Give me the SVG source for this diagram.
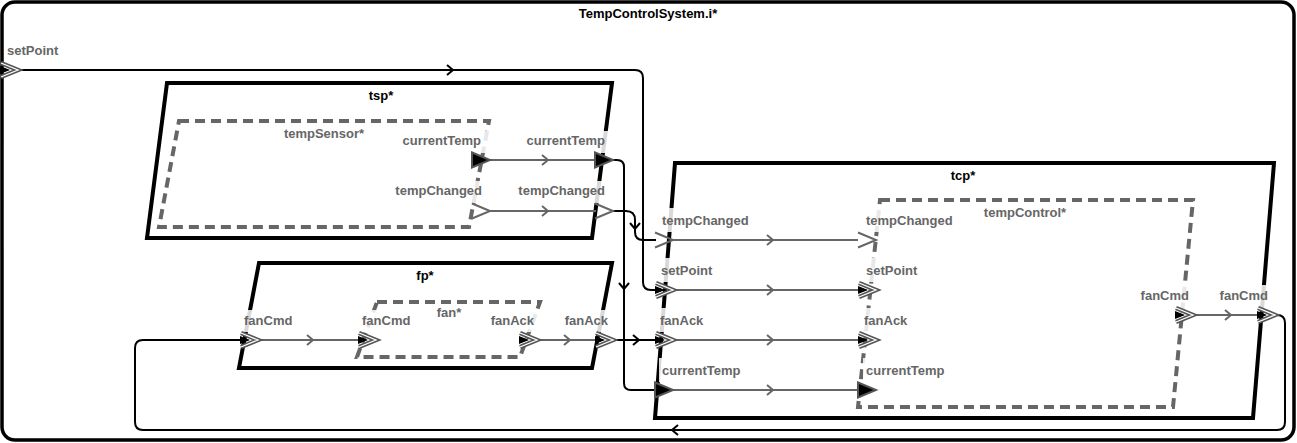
<svg xmlns="http://www.w3.org/2000/svg" width="1297" height="443" viewBox="0 0 1297 443">
<style>
text{font-family:"Liberation Sans",Arial,sans-serif;font-weight:bold;font-size:13px}
.nl{fill:#000;text-anchor:middle}
.sl{fill:#666;text-anchor:middle}
.pl{fill:#666}
.pe{fill:#666;text-anchor:end}
.lb{fill:#fff;fill-opacity:0.85}
.node{fill:#fff;stroke:#000;stroke-width:4;stroke-linejoin:miter}
.sub{fill:none;stroke:#666;stroke-width:4;stroke-dasharray:10 6}
.ext{fill:none;stroke:#000;stroke-width:2}
.int{fill:none;stroke:#666;stroke-width:2}
.mk{fill:none;stroke-width:2}
</style>
<defs>
<g id="pData"><polygon points="0,-7.5 18,0 0,7.5" fill="#000" stroke="#555" stroke-width="2"/></g>
<g id="pEvent"><polyline points="0,-7.5 18,0 0,7.5" fill="none" stroke="#666" stroke-width="2"/></g>
<g id="pEvData"><polygon points="0,-4 10,0 0,4" fill="#000"/><polyline points="1,-7 18,0 1,7" fill="none" stroke="#555" stroke-width="4.5" stroke-linejoin="miter"/><polyline points="1,-7 18,0 1,7" fill="none" stroke="#fff" stroke-width="1.3"/><polygon points="1,-3 9,0 1,3" fill="#000"/></g>
<polyline id="aR" points="-3,-5 3,0 -3,5" class="mk"/>
<polyline id="aL" points="3,-5 -3,0 3,5" class="mk"/>
<polyline id="aD" points="-5,-3 0,3 5,-3" class="mk"/>
</defs>

<g id="TempControlSystem">
<rect x="2" y="2" width="1292" height="438" rx="13" fill="#fff" stroke="#000" stroke-width="3.5"/>
<text class="nl" x="648" y="18">TempControlSystem.i*</text>
</g>

<g id="tsp">
<polygon class="node" points="167,83 612,83 592,238 147,238"/>
<text class="nl" x="381" y="100">tsp*</text>
</g>
<g id="tempSensor">
<polygon class="sub" points="179,121 489,121 469,227 159,227"/>
<text class="sl" x="324" y="138">tempSensor*</text>
</g>

<g id="fp">
<polygon class="node" points="259,263 612,263 592,368 239,368"/>
<text class="nl" x="425" y="280">fp*</text>
</g>
<g id="fan">
<polygon class="sub" points="377,302 540,302 520,357 357,357"/>
<text class="sl" x="449" y="317">fan*</text>
</g>

<g id="tcp">
<polygon class="node" points="675,163 1274,163 1253,418 655,418"/>
<text class="nl" x="963" y="180">tcp*</text>
</g>
<g id="tempControl">
<polygon class="sub" points="880,200 1193,200 1173,407 858,407"/>
<text class="sl" x="1025" y="217">tempControl*</text>
</g>

<g id="connectors">
<path class="ext" d="M18,70 H635 Q643,70 643,78 V282 Q643,290 651,290 H656"/>
<use href="#aR" x="450" y="70" stroke="#000"/>
<path class="ext" d="M613,160 H617 Q624,160 624,167 V383 Q624,390 631,390 H656"/>
<use href="#aD" x="624" y="286" stroke="#000"/>
<path class="ext" d="M613,211 H626 Q635,211 635,220 V232 Q635,240 643,240 H656"/>
<use href="#aD" x="635" y="226" stroke="#000"/>
<path class="ext" d="M613,340 H656"/>
<use href="#aR" x="636" y="340" stroke="#000"/>
<path class="ext" d="M1275,315 H1277 Q1285,315 1285,323 V422 Q1285,430 1277,430 H143 Q135,430 135,422 V348 Q135,340 143,340 H241"/>
<use href="#aL" x="675" y="430" stroke="#000"/>

<path class="int" d="M490,160 H596"/>
<use href="#aR" x="545" y="160" stroke="#666"/>
<path class="int" d="M490,211 H596"/>
<use href="#aR" x="545" y="211" stroke="#666"/>
<path class="int" d="M258,340 H358"/>
<use href="#aR" x="310" y="340" stroke="#666"/>
<path class="int" d="M537,340 H596"/>
<use href="#aR" x="567" y="340" stroke="#666"/>
<path class="int" d="M673,240 H858"/>
<use href="#aR" x="770" y="240" stroke="#666"/>
<path class="int" d="M673,290 H858"/>
<use href="#aR" x="770" y="290" stroke="#666"/>
<path class="int" d="M673,340 H858"/>
<use href="#aR" x="770" y="340" stroke="#666"/>
<path class="int" d="M673,390 H858"/>
<use href="#aR" x="770" y="390" stroke="#666"/>
<path class="int" d="M1193,315 H1257"/>
<use href="#aR" x="1228" y="315" stroke="#666"/>
</g>

<g id="ports">
<g id="port-setPoint"><text class="pl" x="7" y="55">setPoint</text><use href="#pEvData" x="0" y="70"/></g>
<g id="port-tempSensor-currentTemp"><rect class="lb" x="402" y="131" width="87" height="22"/><text class="pe" x="481" y="145">currentTemp</text><use href="#pData" x="472" y="160"/></g>
<g id="port-tempSensor-tempChanged"><rect class="lb" x="394" y="181" width="93" height="22"/><text class="pe" x="482" y="195">tempChanged</text><use href="#pEvent" x="472" y="211"/></g>
<g id="port-tsp-currentTemp"><rect class="lb" x="524" y="131" width="84" height="22"/><text class="pe" x="605" y="145">currentTemp</text><use href="#pData" x="595" y="160"/></g>
<g id="port-tsp-tempChanged"><rect class="lb" x="516" y="181" width="92" height="22"/><text class="pe" x="605" y="195">tempChanged</text><use href="#pEvent" x="595" y="211"/></g>

<g id="port-fp-fanCmd"><rect class="lb" x="241" y="310" width="55" height="22"/><text class="pl" x="244" y="325">fanCmd</text><use href="#pEvData" x="240" y="340"/></g>
<g id="port-fan-fanCmd"><rect class="lb" x="359" y="310" width="56" height="22"/><text class="pl" x="362" y="325">fanCmd</text><use href="#pEvData" x="358" y="340"/></g>
<g id="port-fan-fanAck"><rect class="lb" x="489" y="310" width="49" height="22"/><text class="pe" x="534" y="325">fanAck</text><use href="#pEvData" x="519" y="340"/></g>
<g id="port-fp-fanAck"><rect class="lb" x="562" y="310" width="49" height="22"/><text class="pe" x="608" y="325">fanAck</text><use href="#pEvData" x="595" y="340"/></g>

<g id="port-tcp-tempChanged"><rect class="lb" x="659" y="208" width="92" height="24"/><text class="pl" x="662" y="225">tempChanged</text><use href="#pEvent" x="655" y="240"/></g>
<g id="port-tcp-setPoint"><rect class="lb" x="658" y="258" width="57" height="24"/><text class="pl" x="661" y="275">setPoint</text><use href="#pEvData" x="655" y="290"/></g>
<g id="port-tcp-fanAck"><rect class="lb" x="657" y="308" width="48" height="24"/><text class="pl" x="660" y="325">fanAck</text><use href="#pEvData" x="655" y="340"/></g>
<g id="port-tcp-currentTemp"><rect class="lb" x="659" y="358" width="84" height="24"/><text class="pl" x="662" y="375">currentTemp</text><use href="#pData" x="655" y="390"/></g>

<g id="port-tempControl-tempChanged"><rect class="lb" x="863" y="208" width="93" height="24"/><text class="pl" x="866" y="225">tempChanged</text><use href="#pEvent" x="858" y="240"/></g>
<g id="port-tempControl-setPoint"><rect class="lb" x="863" y="258" width="56" height="24"/><text class="pl" x="866" y="275">setPoint</text><use href="#pEvData" x="858" y="290"/></g>
<g id="port-tempControl-fanAck"><rect class="lb" x="861" y="308" width="50" height="24"/><text class="pl" x="864" y="325">fanAck</text><use href="#pEvData" x="858" y="340"/></g>
<g id="port-tempControl-currentTemp"><rect class="lb" x="863" y="358" width="84" height="24"/><text class="pl" x="866" y="375">currentTemp</text><use href="#pData" x="858" y="390"/></g>

<g id="port-tempControl-fanCmd"><rect class="lb" x="1135" y="285" width="58" height="24"/><text class="pe" x="1189" y="300">fanCmd</text><use href="#pEvData" x="1175" y="315"/></g>
<g id="port-tcp-fanCmd"><rect class="lb" x="1215" y="285" width="57" height="24"/><text class="pe" x="1268" y="300">fanCmd</text><use href="#pEvData" x="1257" y="315"/></g>
</g>
</svg>
